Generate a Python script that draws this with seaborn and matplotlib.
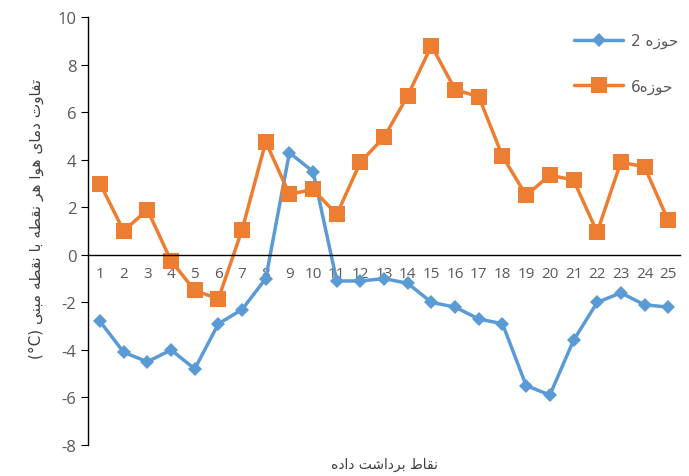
import pandas as pd
import seaborn as sns
import matplotlib.pyplot as plt

# 데이터
points = list(range(1, 26))
hoze2 = [-2.8, -4.1, -4.5, -4.0, -4.8, -2.9, -2.3, -1.0, 4.3, 3.5,
         -1.1, -1.1, -1.0, -1.2, -2.0, -2.2, -2.7, -2.9, -5.5, -5.9,
         -3.6, -2.0, -1.6, -2.1, -2.2]
hoze6 = [3.0, 1.0, 1.9, -0.25, -1.5, -1.85, 1.05, 4.75, 2.55, 2.75,
         1.7, 3.9, 4.95, 6.7, 8.8, 6.95, 6.65, 4.15, 2.5, 3.35,
         3.15, 0.95, 3.9, 3.7, 1.45]
y_ticks = [-8, -6, -4, -2, 0, 2, 4, 6, 8, 10]

# 페르시아어 글자 모양 (matplotlib은 아랍 문자 연결을 안 해줌)
DUAL = {
    'ب': (0xFE8F, 0xFE90, 0xFE91, 0xFE92),
    'ت': (0xFE95, 0xFE96, 0xFE97, 0xFE98),
    'ح': (0xFEA1, 0xFEA2, 0xFEA3, 0xFEA4),
    'ش': (0xFEB5, 0xFEB6, 0xFEB7, 0xFEB8),
    'ط': (0xFEC1, 0xFEC2, 0xFEC3, 0xFEC4),
    'ف': (0xFED1, 0xFED2, 0xFED3, 0xFED4),
    'ق': (0xFED5, 0xFED6, 0xFED7, 0xFED8),
    'م': (0xFEE1, 0xFEE2, 0xFEE3, 0xFEE4),
    'ن': (0xFEE5, 0xFEE6, 0xFEE7, 0xFEE8),
    'ه': (0xFEE9, 0xFEEA, 0xFEEB, 0xFEEC),
    'ی': (0xFBFC, 0xFBFD, 0xFBFE, 0xFBFF),
}
RIGHT = {
    'ا': (0xFE8D, 0xFE8E),
    'د': (0xFEA9, 0xFEAA),
    'ر': (0xFEAD, 0xFEAE),
    'ز': (0xFEAF, 0xFEB0),
    'و': (0xFEED, 0xFEEE),
}

def fa(s):
    out = []
    for i, c in enumerate(s):
        if c not in DUAL and c not in RIGHT:
            out.append(c)
            continue
        p = s[i-1] if i > 0 else ''
        n = s[i+1] if i + 1 < len(s) else ''
        jp = p in DUAL
        jn = c in DUAL and (n in DUAL or n in RIGHT)
        f = DUAL.get(c) or RIGHT[c]
        if jp and jn:
            g = f[3]
        elif jp:
            g = f[1]
        elif jn:
            g = f[2]
        else:
            g = f[0]
        out.append(chr(g))
    return ''.join(out[::-1])

label2 = '2 ' + fa('حوزه')
label6 = '6' + fa('حوزه')
ylab = '(°C) ' + fa('تفاوت دمای هوا هر نقطه با نقطه مبنی')
xlab = fa('نقاط برداشت داده')

df = pd.DataFrame({'point': points, 'h2': hoze2, 'h6': hoze6})

sns.set_style('white')
plt.rcParams['font.family'] = ['DejaVu Sans']

fig = plt.figure(figsize=(6.89, 4.77), dpi=100)
ax = fig.add_axes([0.128, 0.065, 0.859, 0.897])

sns.lineplot(data=df, x='point', y='h2', ax=ax, color='#5B9BD5', lw=2.5,
             marker='D', markersize=7, markeredgewidth=0, label=label2)
sns.lineplot(data=df, x='point', y='h6', ax=ax, color='#ED7D31', lw=2.5,
             marker='s', markersize=11, markeredgewidth=0, label=label6)

ax.set_xlim(0.5, 25.5)
ax.set_ylim(-8, 10)
ax.set_yticks(y_ticks)
ax.set_yticklabels([str(v) for v in y_ticks], fontsize=12, color='#595959',
                   family='Open Sans')

# x축은 0 위치에, 눈금은 카테고리 사이
ax.spines['bottom'].set_position(('data', 0))
ax.set_xticks([p + 0.5 for p in range(0, 26)])
ax.set_xticklabels([])
ax.set_xticks(points, minor=True)
ax.set_xticklabels([str(p) for p in points], minor=True, fontsize=11,
                   color='#595959', family='Open Sans')
ax.tick_params(axis='x', which='major', direction='out', length=6, color='black')
ax.tick_params(axis='x', which='minor', length=0, pad=8)
ax.tick_params(axis='y', direction='out', length=5, color='black', left=True)

for s in ['top', 'right']:
    ax.spines[s].set_visible(False)
ax.spines['left'].set_color('black')
ax.spines['bottom'].set_color('black')
ax.spines['left'].set_linewidth(1)
ax.spines['bottom'].set_linewidth(1)

ax.set_xlabel(xlab, fontsize=10, color='#404040')
ax.xaxis.set_label_coords(0.5, -0.028)
ax.set_ylabel(ylab, fontsize=11, color='#404040')
ax.yaxis.set_label_coords(-0.075, 0.53)

ax.legend(loc='upper right', bbox_to_anchor=(1.02, 0.995), frameon=False,
          fontsize=11, labelspacing=2.0, handlelength=3.2, handletextpad=0.5,
          labelcolor='#595959')

plt.savefig('out.png', dpi=100)
